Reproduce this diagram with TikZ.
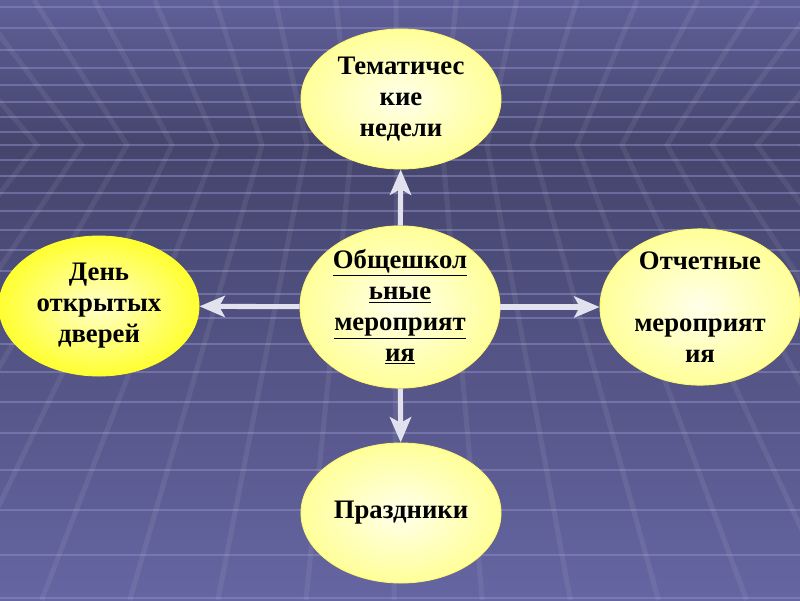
\documentclass[tikz,border=0pt]{standalone}
\usepackage{fontspec}
\setmainfont{Liberation Serif}
\usepackage{tikz}
\usetikzlibrary{shapes.geometric, arrows.meta}

\definecolor{bgtop}{HTML}{60609A}
\definecolor{bgmid}{HTML}{44446C}
\definecolor{bgbot}{HTML}{6565A2}
\definecolor{gridln}{HTML}{8A8AC2}
\definecolor{arrclr}{HTML}{E2E2EE}
\definecolor{paleyel}{HTML}{FFFF99}
\definecolor{hotyel}{HTML}{FFFF30}

\tikzset{
  bubble/.style={ellipse, draw=yellow!55!white, line width=0.6pt, inner sep=0pt,
    minimum width=5cm, minimum height=3.5cm, align=center,
    font=\fontsize{19}{22}\selectfont\bfseries,
    shading=radial, inner color=white!92!yellow, outer color=paleyel},
  hotbubble/.style={bubble, draw=hotyel, inner color=yellow!20!white, outer color=hotyel},
  arr/.style={arrclr, line width=3.6pt, -{Stealth[length=18pt, width=15pt, inset=4pt]}},
  hline/.style={gridln, line width=1.4pt, opacity=0.55},
  slant/.style={white, line width=3.6pt, opacity=0.07}
}

\begin{document}
\begin{tikzpicture}[x=0.025cm, y=-0.025cm]
\useasboundingbox (0,0) rectangle (800,600);
% Background
\shade[top color=bgtop, bottom color=bgmid] (0,0) rectangle (800,146);
\shade[top color=bgmid, bottom color=bgbot] (0,145) rectangle (800,600);
\begin{scope}
\clip (0,0) rectangle (800,600);
% Floor and ceiling grid
\foreach \y in {7,28,50,68,85,102,117,132,145,160,176,193,211,230,250,271,294,318,344,372,402,433,470,510,555,598}
  \draw[hline] (0,\y) -- (800,\y);
\foreach \k in {-14,...,14} {
  \pgfmathsetmacro\h{397+45*\k}
  \draw[slant] ({400+(\h-400)*1.341},0) -- (\h,145) -- ({400+(\h-400)*1.958},600);
}
\end{scope}
% Bubbles
\node[bubble] (main) at (400,307) {\underline{Общешкол}\\\underline{ьные}\\\underline{мероприят}\\\underline{ия}};
\node[bubble] (weeks) at (401,99) {Тематичес\\кие\\недели};
\node[hotbubble] (opendays) at (99,306) {День\\открытых\\дверей};
\node[bubble] (reports) at (700,307) {Отчетные\\[22pt]мероприят\\ия};
\node[bubble] (holidays) at (401,513) {Праздники};
% Arrows
\draw[arr] (main) -- (weeks);
\draw[arr] (main) -- (holidays);
\draw[arr] (main) -- (opendays);
\draw[arr] (main) -- (reports);
\end{tikzpicture}
\end{document}
